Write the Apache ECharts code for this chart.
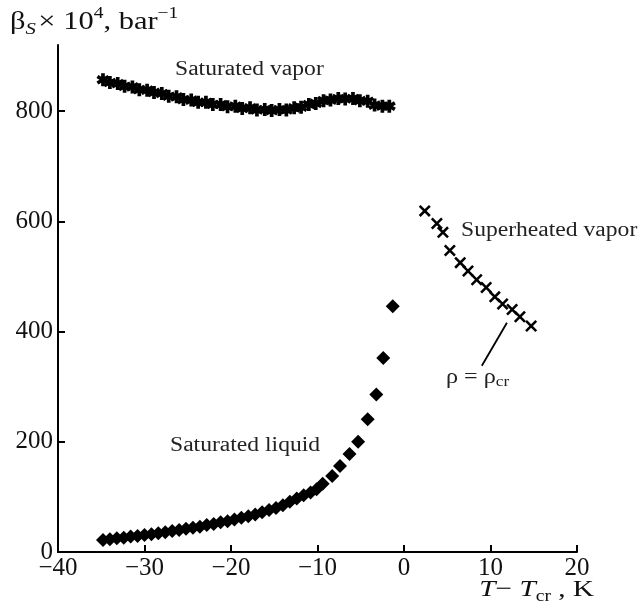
<!DOCTYPE html>
<html>
<head>
<meta charset="utf-8">
<script src="https://cdn.jsdelivr.net/npm/echarts@6/dist/echarts.min.js"></script>
<style>
html,body{margin:0;padding:0;background:#fff;}
#chart{width:640px;height:608px;}
</style>
</head>
<body>
<div id="chart"></div>
<script>
// ---- data ----
const vaporT = [-34.8,-34.0,-33.1,-32.3,-31.4,-30.6,-29.7,-28.9,-28.0,-27.2,-26.3,-25.5,-24.6,-23.8,-22.9,-22.1,-21.2,-20.4,-19.5,-18.7,-17.8,-17.0,-16.1,-15.3,-14.4,-13.6,-12.7,-11.9,-11.0,-10.2,-9.3,-8.5,-7.6,-6.8,-5.9,-5.1,-4.2,-3.4,-2.5,-1.7];
const vaporBeta = [857,852,850,845,844,839,838,834,832,827,826,821,820,816,816,812,812,808,809,805,806,802,803,801,803,802,806,807,812,814,819,820,823,822,823,819,818,811,809,809];

const superT = [2.4,3.8,4.5,5.3,6.5,7.4,8.4,9.5,10.5,11.4,12.5,13.4,14.7];
const superBeta = [619,596,580,547,525,510,494,480,463,450,440,427,410];

const liquidT = [-34.8,-34.0,-33.2,-32.4,-31.6,-30.8,-30.0,-29.2,-28.4,-27.6,-26.8,-26.0,-25.2,-24.4,-23.6,-22.8,-22.0,-21.2,-20.4,-19.6,-18.8,-18.0,-17.2,-16.4,-15.6,-14.8,-14.0,-13.2,-12.4,-11.6,-10.8,-10.1,-9.4,-8.3,-7.4,-6.3,-5.3,-4.2,-3.2,-2.4,-1.3];
const liquidBeta = [22,23,25,26,28,29,31,32,34,36,38,40,42,44,46,49,51,54,56,59,62,65,68,72,76,80,85,91,97,103,108,114,124,138,156,178,200,241,286,352,446];

const xTickValues = [-40,-30,-20,-10,0,10,20];
const yTickValues = [0,200,400,600,800];
const yAxisMax = 920;

// leader line for rho = rho_cr (data coordinates)
const leaderFrom = [11.9, 416];
const leaderTo = [9.0, 338];

// ---- helpers ----
const zip = (a, b) => a.map((v, i) => [v, b[i]]);
const SERIF = "'Liberation Serif', 'Times New Roman', serif";
// six-armed asterisk (thick arms)
const STAR = 'path://M7.2 0L12.8 0L12.8 20L7.2 20Z M17.03 2.58L19.83 7.42L2.97 17.42L0.17 12.58Z M0.17 7.42L2.97 2.58L19.83 12.58L17.03 17.42Z';
// diagonal cross
const CROSS = 'path://M15.8 1.7L18.3 4.2L4.2 18.3L1.7 15.8Z M1.7 4.2L4.2 1.7L18.3 15.8L15.8 18.3Z';

const chart = echarts.init(document.getElementById('chart'), null, {renderer: 'canvas'});

const axisLineStyle = {color: '#000', width: 2};

const option = {
  animation: false,
  backgroundColor: '#fff',
  grid: {left: 58, right: 63, top: 45, bottom: 56, containLabel: false},
  xAxis: {
    type: 'value',
    min: xTickValues[0],
    max: xTickValues[xTickValues.length - 1],
    interval: 10,
    axisLine: {show: true, onZero: false, lineStyle: axisLineStyle},
    axisTick: {show: true, inside: true, length: 7, lineStyle: {color: '#000', width: 2}},
    splitLine: {show: false},
    axisLabel: {
      color: '#111', fontFamily: SERIF, fontSize: 25, margin: 4,
      formatter: v => String(v).replace('-', '\u2212')
    }
  },
  yAxis: {
    type: 'value',
    min: 0,
    max: yAxisMax,
    axisLine: {show: true, onZero: false, lineStyle: axisLineStyle},
    axisTick: {show: true, inside: true, length: 7, lineStyle: {color: '#000', width: 2}, customValues: yTickValues},
    splitLine: {show: false},
    axisLabel: {color: '#111', fontFamily: SERIF, fontSize: 25, margin: 5, customValues: yTickValues}
  },
  series: [
    {
      name: 'Saturated vapor', type: 'scatter',
      data: zip(vaporT, vaporBeta),
      symbol: STAR, symbolSize: 13,
      itemStyle: {color: '#000', opacity: 1}
    },
    {
      name: 'Superheated vapor', type: 'scatter',
      data: zip(superT, superBeta),
      symbol: CROSS, symbolSize: 12,
      itemStyle: {color: '#000', opacity: 1},
      markLine: {
        silent: true, symbol: 'none', animation: false,
        label: {show: false},
        lineStyle: {color: '#000', width: 1.8, type: 'solid', opacity: 1},
        data: [[{coord: leaderFrom}, {coord: leaderTo}]]
      }
    },
    {
      name: 'Saturated liquid', type: 'scatter',
      data: zip(liquidT, liquidBeta),
      symbol: 'diamond', symbolSize: [14, 14],
      itemStyle: {color: '#000', opacity: 1}
    }
  ],
  graphic: [
    { // y-axis title
      type: 'text', x: 10, y: 6, scaleX: 1.22,
      style: {
        text: '{m|\u03b2}{s|S}{m|\u00d7 10}{p|4}{m|, bar}{p|\u22121}',
        fill: '#111',
        rich: {
          m: {fontFamily: SERIF, fontSize: 25, lineHeight: 32, verticalAlign: 'middle', fill: '#111'},
          s: {fontFamily: SERIF, fontSize: 17, fontStyle: 'italic', lineHeight: 16, verticalAlign: 'bottom', fill: '#111', padding: [0, 2, 0, 0]},
          p: {fontFamily: SERIF, fontSize: 16, lineHeight: 15, verticalAlign: 'top', fill: '#111'}
        }
      }
    },
    { // x-axis title
      type: 'text', x: 594, y: 575, scaleX: 1.22,
      style: {
        text: '{i|T}{m|\u2212 }{i|T}{s|cr}{m| , K}',
        textAlign: 'right',
        fill: '#111',
        rich: {
          m: {fontFamily: SERIF, fontSize: 24, lineHeight: 30, verticalAlign: 'middle', fill: '#111'},
          i: {fontFamily: SERIF, fontSize: 24, fontStyle: 'italic', lineHeight: 30, verticalAlign: 'middle', fill: '#111'},
          s: {fontFamily: SERIF, fontSize: 16, lineHeight: 15, verticalAlign: 'bottom', fill: '#111'}
        }
      }
    },
    {
      type: 'text', x: 175, y: 70, scaleX: 1.18,
      style: {text: 'Saturated vapor', fontFamily: SERIF, fontSize: 20, fill: '#222', textVerticalAlign: 'middle', verticalAlign: 'middle'}
    },
    {
      type: 'text', x: 461, y: 231, scaleX: 1.18,
      style: {text: 'Superheated vapor', fontFamily: SERIF, fontSize: 20, fill: '#222', textVerticalAlign: 'middle', verticalAlign: 'middle'}
    },
    {
      type: 'text', x: 170, y: 446, scaleX: 1.18,
      style: {text: 'Saturated liquid', fontFamily: SERIF, fontSize: 20, fill: '#222', textVerticalAlign: 'middle', verticalAlign: 'middle'}
    },
    {
      type: 'text', x: 446, y: 364, scaleX: 1.15,
      style: {
        text: '{m|\u03c1 = \u03c1}{s|cr}',
        fill: '#222',
        rich: {
          m: {fontFamily: SERIF, fontSize: 21, lineHeight: 26, verticalAlign: 'middle', fill: '#222'},
          s: {fontFamily: SERIF, fontSize: 15, lineHeight: 14, verticalAlign: 'bottom', fill: '#222'}
        }
      }
    }
  ]
};

chart.setOption(option);
</script>
</body>
</html>
